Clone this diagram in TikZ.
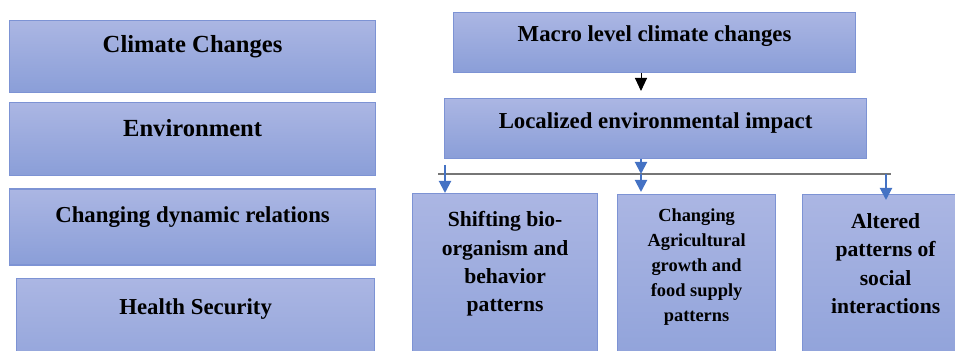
\documentclass[tikz,border=0pt]{standalone}
\usepackage{fontspec}
\setmainfont{Liberation Serif}
\usetikzlibrary{positioning,arrows.meta}
\definecolor{boxtop}{HTML}{ABB6E3}
\definecolor{boxbot}{HTML}{8A9ED8}
\definecolor{boxline}{HTML}{7D93D4}
\definecolor{arrowblue}{HTML}{4472C4}
\definecolor{busgray}{HTML}{767676}
\tikzset{
        box/.style={draw=boxline, line width=0.6pt, rectangle, top color=boxtop, bottom color=boxbot, anchor=north west, inner sep=0pt},
        boxtext/.style={align=center, inner sep=0pt, font=\bfseries\fontsize{11.4}{14}\selectfont},
        bigtext/.style={align=center, inner sep=0pt, font=\bfseries\fontsize{12.3}{14}\selectfont},
        midtext/.style={align=center, inner sep=0pt, font=\bfseries\fontsize{10.8}{14.2}\selectfont},
        smalltext/.style={align=center, inner sep=0pt, font=\bfseries\fontsize{9.2}{12.5}\selectfont},
        bluearrow/.style={draw=arrowblue, line width=1pt, -{Triangle[width=6pt,length=6pt]}},
        blackarrow/.style={draw=black, line width=0.5pt, -{Triangle[width=6pt,length=6.5pt]}},
        busline/.style={draw=busgray, line width=1pt},
    }
\begin{document}
\begin{tikzpicture}[x=0.5pt, y=-0.5pt]

        \clip (0,0) rectangle (955,351);

        % Left column
        \node[box, minimum width=183pt, minimum height=36pt] (climate) at (9,20) {};
        \node[box, minimum width=183pt, minimum height=36.5pt, below=4.5pt of climate] (environ) {};
        \node[box, minimum width=183pt, minimum height=38pt, below=6pt of environ] (dynamic) {};
        \node[box, minimum width=179pt, minimum height=60pt] (health) at (16,278) {};

        \node[bigtext, below=7.5pt of climate.north] (climateText) {Climate Changes};
        \node[bigtext, below=8.5pt of environ.north] (environText) {Environment};
        \node[boxtext, below=9pt of dynamic.north] (dynamicText) {Changing dynamic relations};
        \node[boxtext, below=10pt of health.north] (healthText) {Health Security};

        % Right column, top
        \node[box, minimum width=201pt, minimum height=30pt] (macro) at (453,12) {};
        \node[box, minimum width=211pt, minimum height=30pt] (local) at (444,98) {};

        \node[boxtext, below=6.5pt of macro.north] (macroText) {Macro level climate changes};
        \node[boxtext, below=7pt of local.north] (localText) {Localized environmental impact};

        % Right column, impacts
        \node[box, minimum width=92.5pt, minimum height=104pt] (bio) at (412,193) {};
        \node[box, minimum width=79pt, minimum height=104pt] (agri) at (617,194) {};
        \node[box, minimum width=83pt, minimum height=104pt] (social) at (802,194) {};

        \node[midtext, below=9pt of bio.north] (bioText) {Shifting bio-\\organism and\\behavior\\patterns};
        \node[smalltext, below=7pt of agri.north] (agriText) {Changing\\Agricultural\\growth and\\food supply\\patterns};
        \node[midtext, below=9.5pt of social.north] (socialText) {Altered\\patterns of\\social\\interactions};

        % Bus and taps
        \coordinate (hub) at (641,174);
        \coordinate (busL) at (438,174);
        \coordinate (busR) at (891,174);
        \coordinate (bioTap) at (445,165);
        \coordinate (socialTap) at (886,174);

        \draw[busline] (busL) -- (busR);

        % Arrows
        \draw[blackarrow, shorten >=3.5pt] (macro.south -| hub) -- (local.north -| hub);
        \draw[bluearrow] (local.south -| hub) -- (hub);
        \draw[bluearrow, shorten >=1pt] (hub) -- (agri.north -| hub);
        \draw[bluearrow] (bioTap) -- (bio.north -| bioTap);
        \draw[bluearrow, shorten >=-3pt] (socialTap) -- (social.north -| socialTap);

    \end{tikzpicture}
\end{document}
